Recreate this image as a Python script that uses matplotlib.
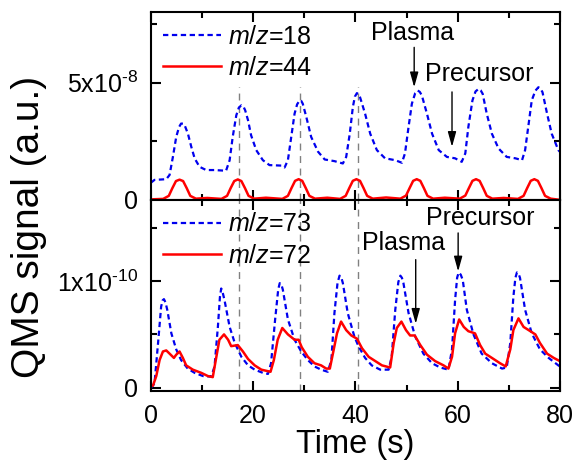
import numpy as np
import matplotlib
matplotlib.use("Agg")
import matplotlib.pyplot as plt
from matplotlib.ticker import MultipleLocator

plt.rcParams['font.family'] = ['Liberation Sans', 'DejaVu Sans']
plt.rcParams['mathtext.fontset'] = 'custom'
plt.rcParams['mathtext.rm'] = 'Liberation Sans'
plt.rcParams['mathtext.it'] = 'Liberation Sans:italic'

# top panel, m/z=18 (x1e-8)
t18 = [0, 0.7, 3.0, 3.65, 4.3, 4.95, 5.5, 5.9, 6.3, 6.6, 7.24, 7.9, 8.55, 9.5, 10.8, 12.4, 14.7, 15.4,
       16.0, 16.7, 17.2, 17.7, 18.1, 18.45, 19.0, 19.6, 20.6, 21.9, 23.2, 25.5, 26.15, 26.8, 27.45, 28.1,
       28.6, 29.1, 29.4, 29.7, 30.4, 31.35, 32.7, 34.0, 35.9, 37.55, 38.2, 38.9, 39.5, 39.9, 40.3, 40.6,
       40.9, 41.9, 42.9, 44.2, 45.8, 47.8, 49.1, 49.7, 50.4, 51.05, 51.7, 52.2, 52.6, 53.0, 54.0, 55.0,
       56.3, 57.9, 59.5, 60.8, 61.5, 62.1, 62.9, 63.5, 64.1, 64.5, 64.9, 65.7, 66.7, 68.0, 69.6, 71.3,
       72.6, 73.2, 73.9, 74.5, 75.2, 75.8, 76.2, 76.6, 77.5, 78.4, 79.7, 80]
s18 = [0.73, 0.85, 0.88, 1.06, 1.83, 2.68, 3.10, 3.25, 3.25, 3.18, 2.82, 2.26, 1.77, 1.41, 1.27, 1.27,
       1.24, 1.69, 2.68, 3.60, 3.93, 4.03, 3.98, 3.81, 3.39, 2.75, 2.12, 1.69, 1.48, 1.46, 1.38, 1.69,
       2.68, 3.67, 4.07, 4.24, 4.22, 4.10, 3.53, 2.68, 2.05, 1.72, 1.65, 1.55, 1.83, 2.82, 3.95, 4.40,
       4.55, 4.50, 4.38, 3.67, 2.82, 2.12, 1.77, 1.69, 1.58, 1.98, 3.11, 4.10, 4.55, 4.66, 4.60, 4.45,
       3.67, 2.82, 2.12, 1.83, 1.77, 1.62, 1.98, 3.11, 4.24, 4.62, 4.73, 4.67, 4.52, 3.67, 2.82, 2.19,
       1.83, 1.77, 1.69, 2.12, 3.25, 4.24, 4.65, 4.80, 4.74, 4.59, 3.67, 2.82, 2.12, 2.05]

# top panel, m/z=44 (x1e-8)
t44 = [0, 2.4, 3.5, 4.2, 4.9, 5.6, 6.3, 7.0, 7.7, 8.8, 11.0,
       13.8, 14.9, 15.6, 16.3, 17.0, 17.7, 18.4, 19.1, 20.2, 22.5,
       25.7, 26.8, 27.5, 28.2, 28.9, 29.6, 30.3, 31.0, 32.1, 34.5,
       37.0, 38.1, 38.8, 39.5, 40.2, 40.9, 41.6, 42.3, 43.4, 46.0,
       48.8, 49.9, 50.6, 51.3, 52.0, 52.7, 53.4, 54.1, 55.2, 57.5,
       60.4, 61.5, 62.2, 62.9, 63.6, 64.3, 65.0, 65.7, 66.8, 69.0,
       71.8, 72.9, 73.6, 74.3, 75.0, 75.7, 76.4, 77.1, 78.2, 80.0]
s44 = [0.02, 0.04, 0.17, 0.5, 0.8, 0.86, 0.8, 0.5, 0.17, 0.05, 0.08,
       0.04, 0.17, 0.5, 0.8, 0.87, 0.8, 0.5, 0.17, 0.05, 0.09,
       0.04, 0.17, 0.5, 0.81, 0.88, 0.81, 0.5, 0.17, 0.05, 0.09,
       0.04, 0.17, 0.5, 0.81, 0.88, 0.81, 0.5, 0.17, 0.05, 0.1,
       0.05, 0.18, 0.5, 0.81, 0.88, 0.81, 0.5, 0.17, 0.05, 0.09,
       0.05, 0.18, 0.5, 0.81, 0.88, 0.81, 0.5, 0.17, 0.05, 0.08,
       0.04, 0.17, 0.5, 0.81, 0.88, 0.81, 0.5, 0.17, 0.05, 0.0]

# bottom panel, m/z=73 (x1e-10)
t73 = [0, 0.7, 1.4, 2.0, 2.3, 2.55, 2.85, 3.2, 4.0, 4.95, 5.9, 7.2, 8.55, 10.2, 11.8, 12.45, 13.1,
       13.5, 13.75, 14.0, 14.4, 15.4, 16.4, 17.7, 19.0, 20.3, 21.9, 22.9, 23.5, 24.3, 24.9, 25.2,
       25.5, 25.8, 26.8, 28.1, 29.4, 30.7, 32.0, 33.3, 34.6, 35.3, 35.9, 36.5, 36.9, 37.2, 37.55,
       38.5, 39.8, 40.6, 41.9, 43.2, 44.85, 46.5, 47.1, 47.8, 48.4, 48.8, 49.1, 49.4, 50.4, 51.7,
       53.3, 55.0, 56.6, 58.2, 58.9, 59.5, 59.9, 60.2, 60.6, 61.0, 61.8, 63.1, 64.7, 66.7, 68.7,
       69.6, 70.3, 70.9, 71.3, 71.6, 71.9, 72.2, 73.2, 74.5, 76.1, 77.8, 79.7, 80]
s73 = [0.0, 0.04, 0.42, 0.76, 0.82, 0.83, 0.80, 0.73, 0.51, 0.36, 0.26, 0.18, 0.14, 0.11, 0.105,
       0.20, 0.57, 0.85, 0.93, 0.90, 0.82, 0.57, 0.42, 0.29, 0.21, 0.17, 0.14, 0.13, 0.23, 0.64,
       0.92, 0.98, 0.97, 0.92, 0.64, 0.45, 0.34, 0.26, 0.20, 0.17, 0.15, 0.26, 0.70, 0.98, 1.05,
       1.04, 0.98, 0.70, 0.48, 0.39, 0.28, 0.21, 0.17, 0.17, 0.29, 0.73, 0.99, 1.05, 1.03, 0.98,
       0.70, 0.48, 0.32, 0.23, 0.19, 0.17, 0.36, 0.82, 1.03, 1.08, 1.06, 1.01, 0.73, 0.50, 0.32,
       0.23, 0.18, 0.19, 0.42, 0.85, 1.03, 1.08, 1.07, 1.03, 0.73, 0.51, 0.36, 0.28, 0.21, 0.20]

# bottom panel, m/z=72 (x1e-10)
t72 = [0, 0.4, 1.05, 1.7, 2.35, 3.0, 3.65, 4.5, 4.95, 5.6, 6.25, 6.9, 8.2, 9.85, 11.15, 12.1,
       12.8, 13.4, 14.3, 15.1, 15.7, 17.0, 18.0, 19.0, 20.3, 21.6, 23.4, 24.05, 24.8, 25.7,
       26.8, 28.1, 28.9, 29.5, 30.7, 32.0, 33.3, 34.3, 35.0, 35.6, 36.4, 37.2, 38.2, 39.2,
       40.3, 41.3, 42.6, 43.9, 45.2, 46.8, 47.5, 48.1, 49.0, 49.9, 50.7, 51.6, 52.7, 54.0,
       55.6, 57.25, 58.2, 58.9, 59.5, 60.3, 61.2, 62.1, 63.4, 64.4, 65.4, 66.7, 68.3, 69.4,
       70.3, 70.9, 71.9, 72.9, 73.9, 75.2, 76.1, 77.5, 78.8, 80]
s72 = [0.02, 0.02, 0.11, 0.26, 0.34, 0.35, 0.32, 0.28, 0.31, 0.34, 0.28, 0.21, 0.17, 0.14, 0.11,
       0.10, 0.29, 0.45, 0.50, 0.45, 0.39, 0.40, 0.34, 0.27, 0.21, 0.17, 0.15, 0.26, 0.45, 0.56,
       0.50, 0.45, 0.45, 0.38, 0.29, 0.23, 0.21, 0.18, 0.18, 0.32, 0.51, 0.62, 0.54, 0.49, 0.46,
       0.37, 0.29, 0.25, 0.21, 0.19, 0.42, 0.56, 0.62, 0.54, 0.49, 0.49, 0.40, 0.31, 0.25, 0.21,
       0.18, 0.29, 0.51, 0.64, 0.57, 0.53, 0.51, 0.40, 0.32, 0.28, 0.23, 0.20, 0.36, 0.54, 0.65,
       0.57, 0.54, 0.50, 0.42, 0.32, 0.28, 0.25]

vlines_t = [17.2, 29.2, 40.5]

fig = plt.figure(figsize=(5.76, 4.68), dpi=100)
ax1 = fig.add_axes([0.262, 0.573, 0.71, 0.401])
ax2 = fig.add_axes([0.262, 0.1645, 0.71, 0.4085], sharex=ax1)

blue_ls = (0, (2.4, 1.6))
ax1.plot(t18, np.array(s18) * 1e-8, color='#0000ee', lw=1.6, ls=blue_ls, label='$\\mathit{m/z}$=18')
ax1.plot(t44, np.array(s44) * 1e-8, color='#ff0000', lw=1.8, label='$\\mathit{m/z}$=44')
ax2.plot(t73, np.array(s73) * 1e-10, color='#0000ee', lw=1.6, ls=blue_ls, label='$\\mathit{m/z}$=73')
ax2.plot(t72, np.array(s72) * 1e-10, color='#ff0000', lw=1.8, label='$\\mathit{m/z}$=72')

for x in vlines_t:
    ax1.plot([x, x], [0, 4.8e-8], color='gray', lw=1, ls=(0, (5, 4)), zorder=0)
    ax2.plot([x, x], [-0.03e-10, 1.76e-10], color='gray', lw=1, ls=(0, (5, 4)), zorder=0)

ax1.set_xlim(0, 80)
ax1.set_ylim(0, 8e-8)
ax2.set_ylim(-0.03e-10, 1.76e-10)

ax1.set_yticks([0, 5e-8])
ax1.set_yticklabels(['0', '5x10$^{\\text{-8}}$'])
ax1.yaxis.set_minor_locator(MultipleLocator(2.5e-8))
ax1.xaxis.set_major_locator(MultipleLocator(10))
ax1.xaxis.set_minor_locator(MultipleLocator(5))

ax2.set_yticks([0, 1e-10])
ax2.set_yticklabels(['0', '1x10$^{\\text{-10}}$'])
ax2.yaxis.set_minor_locator(MultipleLocator(0.5e-10))
ax2.set_xticks([0, 20, 40, 60, 80])
ax2.xaxis.set_minor_locator(MultipleLocator(10))
ax1.tick_params(axis='x', which='both', labelbottom=False)

for ax in (ax1, ax2):
    for sp in ax.spines.values():
        sp.set_linewidth(1.5)
    ax.tick_params(which='both', direction='in', top=True, right=True, width=1.5, labelsize=18, pad=9)
    ax.tick_params(which='major', length=7)
    ax.tick_params(which='minor', length=4.5)
    ax.legend(loc='upper left', frameon=False, fontsize=18, handlelength=2.3, handletextpad=0.3,
              labelspacing=0.3, borderaxespad=0.2, borderpad=0.3)

ax2.set_xlabel('Time (s)', fontsize=23.5, labelpad=1)
fig.text(0.05, 0.516, 'QMS signal (a.u.)', rotation=90, fontsize=28, ha='center', va='center')

arrow = dict(arrowstyle='-|>,head_length=0.9,head_width=0.25', color='black', lw=1, mutation_scale=10,
             shrinkA=0, shrinkB=0)
ax1.text(51.2, 7.1e-8, 'Plasma', fontsize=18, ha='center', va='center')
ax1.annotate('', xy=(51.5, 4.8e-8), xytext=(51.5, 6.5e-8), arrowprops=arrow)
ax1.text(64.2, 5.35e-8, 'Precursor', fontsize=18, ha='center', va='center')
ax1.annotate('', xy=(58.9, 2.26e-8), xytext=(58.9, 4.6e-8), arrowprops=arrow)

ax2.text(64.5, 1.59e-10, 'Precursor', fontsize=18, ha='center', va='center')
ax2.annotate('', xy=(60.1, 1.09e-10), xytext=(60.1, 1.45e-10), arrowprops=arrow)
ax2.text(49.4, 1.36e-10, 'Plasma', fontsize=18, ha='center', va='center')
ax2.annotate('', xy=(51.8, 0.60e-10), xytext=(51.8, 1.2e-10), arrowprops=arrow)

fig.savefig('out.png', dpi=100)
